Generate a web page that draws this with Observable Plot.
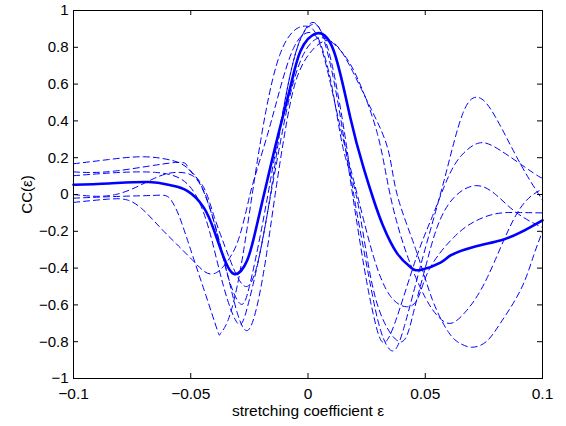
<!DOCTYPE html>
<html>
<head>
<meta charset="utf-8">
<script src="https://cdn.jsdelivr.net/npm/d3@7"></script>
<script src="https://cdn.jsdelivr.net/npm/@observablehq/plot@0.6"></script>
<style>
  html, body { margin: 0; padding: 0; background: #fff; }
  #chart { width: 566px; height: 426px; }
</style>
</head>
<body>
<div id="chart"></div>
<script>
// ---- data ----
const xTicks = [-0.1, -0.05, 0, 0.05, 0.1];
const yTicks = [1, 0.8, 0.6, 0.4, 0.2, 0, -0.2, -0.4, -0.6, -0.8, -1];

// mean (solid) curve
const meanCurve = [
  [-0.1,0.053],[-0.085,0.06],[-0.068,0.068],[-0.0586,0.05],[-0.0515,0.02],[-0.0445,-0.07],
  [-0.040,-0.197],[-0.036,-0.34],[-0.0316,-0.432],[-0.026,-0.36],[-0.0217,-0.16],[-0.0174,0.075],
  [-0.013,0.31],[-0.0075,0.585],[-0.0032,0.78],[0.0035,0.875],[0.011,0.78],[0.018,0.42],
  [0.0238,0.14],[0.028,-0.03],[0.032,-0.17],[0.038,-0.32],[0.0437,-0.395],[0.048,-0.41],
  [0.0565,-0.37],[0.061,-0.33],[0.0706,-0.285],[0.082,-0.25],[0.0906,-0.206],[0.1,-0.14]
];

// individual (dashed) curves
const trace1 = [
  [-0.1,0.167],[-0.085,0.19],[-0.07,0.205],[-0.058,0.185],[-0.052,0.15],[-0.046,0.06],
  [-0.040,-0.15],[-0.034,-0.45],[-0.030,-0.65],[-0.026,-0.74],[-0.022,-0.62],[-0.018,-0.35],
  [-0.014,0.0],[-0.009,0.4],[-0.004,0.66],[0.003,0.8],[0.0109,0.825],[0.019,0.67],
  [0.0267,0.47],[0.034,0.25],[0.038,0.0],[0.046,-0.3],[0.053,-0.57],[0.06,-0.75],
  [0.065,-0.81],[0.070,-0.83],[0.076,-0.8],[0.082,-0.70],[0.0906,-0.52],[0.096,-0.34],[0.1,-0.2]
];
const trace2 = [
  [-0.1,0.123],[-0.082,0.128],[-0.0565,0.174],[-0.051,0.14],[-0.045,0.05],[-0.040,-0.12],
  [-0.034,-0.33],[-0.030,-0.45],[-0.026,-0.50],[-0.022,-0.40],[-0.018,-0.15],[-0.013,0.2],
  [-0.008,0.52],[-0.002,0.76],[0.006,0.852],[0.0147,0.77],[0.0215,0.62],[0.0296,0.33],
  [0.035,0.0],[0.042,-0.32],[0.05,-0.56],[0.056,-0.67],[0.061,-0.70],[0.067,-0.64],
  [0.0765,-0.45],[0.089,-0.105],[0.1,0.03]
];
const trace3 = [
  [-0.1,0.102],[-0.08,0.12],[-0.065,0.12],[-0.055,0.09],[-0.048,0.0],[-0.042,-0.2],
  [-0.036,-0.5],[-0.030,-0.70],[-0.026,-0.62],[-0.021,-0.35],[-0.016,0.0],[-0.011,0.42],
  [-0.005,0.78],[0.001,0.93],[0.005,0.90],[0.01,0.72],[0.016,0.3],[0.0195,0.0],
  [0.026,-0.45],[0.031,-0.74],[0.036,-0.85],[0.041,-0.72],[0.049,-0.34],[0.058,0.075],
  [0.066,0.44],[0.0728,0.527],[0.080,0.42],[0.0906,0.166],[0.1,-0.03]
];
const trace4 = [
  [-0.1,0.0],[-0.082,0.0],[-0.066,0.085],[-0.0565,0.12],[-0.049,0.10],[-0.044,0.0],
  [-0.039,-0.2],[-0.034,-0.45],[-0.0288,-0.595],[-0.025,-0.5],[-0.02,-0.2],[-0.015,0.15],
  [-0.01,0.5],[-0.004,0.82],[0.002,0.925],[0.006,0.87],[0.011,0.62],[0.016,0.25],
  [0.019,0.0],[0.024,-0.4],[0.028,-0.66],[0.0316,-0.80],[0.037,-0.70],[0.046,-0.35],
  [0.053,-0.12],[0.06,0.1],[0.066,0.22],[0.073,0.28],[0.082,0.24],[0.096,0.118],[0.1,0.09]
];
const trace5 = [
  [-0.1,-0.02],[-0.08,-0.01],[-0.066,-0.005],[-0.06,-0.01],[-0.057,-0.06],[-0.054,-0.15],
  [-0.049,-0.34],[-0.0435,-0.55],[-0.0386,-0.74],[-0.0373,-0.755],[-0.034,-0.68],[-0.029,-0.42],
  [-0.0238,0.0],[-0.018,0.45],[-0.012,0.76],[-0.006,0.89],[-0.001,0.915],[0.004,0.86],
  [0.01,0.6],[0.015,0.25],[0.0205,0.0],[0.026,-0.4],[0.032,-0.68],[0.040,-0.80],
  [0.045,-0.64],[0.05,-0.40],[0.055,-0.18],[0.062,-0.02],[0.0714,0.048],[0.08,0.0],
  [0.089,-0.10],[0.1,-0.18]
];
const trace6 = [
  [-0.1,-0.043],[-0.085,-0.025],[-0.077,-0.03],[-0.0706,-0.08],[-0.063,-0.18],[-0.056,-0.27],
  [-0.049,-0.36],[-0.044,-0.42],[-0.040,-0.43],[-0.036,-0.39],[-0.0318,-0.31],[-0.0288,-0.21],
  [-0.026,-0.07],[-0.0235,0.06],[-0.0174,0.32],[-0.012,0.57],[-0.006,0.8],[0.0,0.88],
  [0.005,0.82],[0.01,0.58],[0.015,0.3],[0.021,0.0],[0.028,-0.34],[0.035,-0.55],
  [0.042,-0.61],[0.047,-0.56],[0.052,-0.4],[0.062,-0.235],[0.0706,-0.15],[0.08,-0.105],
  [0.09,-0.098],[0.1,-0.1]
];
const dashedTraces = [trace1, trace2, trace3, trace4, trace5, trace6];

// ---- chart ----
const W = 566, H = 426;
const mL = 73, mR = 24, mT = 10, mB = 48;
const plotW = W - mL - mR, plotH = H - mT - mB;
const blue = "#0000ff";
const fmt = d => String(d).replace("-", "\u2212");

const marks = [
  ...dashedTraces.map(t => Plot.line(t, {
    x: d => d[0], y: d => d[1], stroke: blue, strokeWidth: 1,
    strokeDasharray: "6,4", curve: "natural"
  })),
  Plot.line(meanCurve, {
    x: d => d[0], y: d => d[1], stroke: blue, strokeWidth: 2.6, curve: "natural"
  }),
  // inward ticks on all four sides
  Plot.tickY(yTicks, {y: d => d, stroke: "#000", insetRight: plotW - 5}),
  Plot.tickY(yTicks, {y: d => d, stroke: "#000", insetLeft: plotW - 5}),
  Plot.tickX(xTicks, {x: d => d, stroke: "#000", insetTop: plotH - 5}),
  Plot.tickX(xTicks, {x: d => d, stroke: "#000", insetBottom: plotH - 5}),
  Plot.frame({stroke: "#000", strokeWidth: 1}),
  Plot.axisY(yTicks, {anchor: "left", tickSize: 0, tickPadding: 5, tickFormat: fmt,
    label: "CC(\u03b5)", labelAnchor: "center", labelArrow: "none", labelOffset: 52,
    fontSize: 15, color: "#000"}),
  Plot.axisX(xTicks, {anchor: "bottom", tickSize: 0, tickPadding: 9, tickFormat: fmt,
    label: "stretching coefficient \u03b5", labelAnchor: "center", labelArrow: "none", labelOffset: 37,
    fontSize: 15.5, color: "#000"})
];

const chart = Plot.plot({
  width: W, height: H,
  marginLeft: mL, marginRight: mR, marginTop: mT, marginBottom: mB,
  x: {domain: [-0.1, 0.1]},
  y: {domain: [-1, 1]},
  style: {fontFamily: "'Liberation Sans', Arial, Helvetica, sans-serif", fontSize: "15px", background: "#fff", color: "#000"},
  marks
});
document.getElementById("chart").appendChild(chart);
</script>
</body>
</html>
